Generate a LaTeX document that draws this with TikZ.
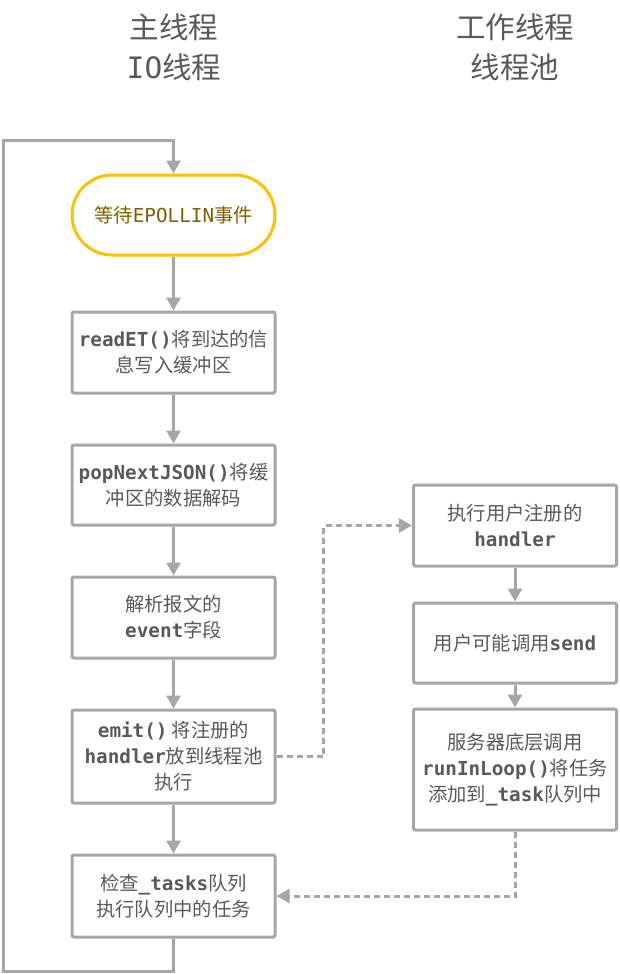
\documentclass[tikz,border=0pt]{standalone}
\usepackage{fontspec}
\usepackage{xcolor}
\usepackage{tikz}
\usetikzlibrary{arrows.meta}
\setmainfont{Noto Sans CJK SC}
\newfontfamily\codefont{DejaVu Sans Mono}
\newcommand{\kw}[1]{{\codefont\bfseries #1}}
\definecolor{linegray}{HTML}{A6A6A6}
\definecolor{txtgray}{HTML}{595959}
\definecolor{ovalline}{HTML}{FFC000}
\definecolor{ovaltxt}{HTML}{7F6000}

\begin{document}
\begin{tikzpicture}[x=1pt,y=-1pt,
    stepbox/.style={draw=linegray,line width=3pt,rounded corners=2pt,
      minimum width=203pt,minimum height=81pt,inner sep=0pt,align=center,
      text=txtgray,font=\fontsize{19.3}{26}\selectfont},
    flow/.style={draw=linegray,line width=3pt,
      -{Triangle[width=14pt,length=13pt]}},
    dflow/.style={flow,dash pattern=on 6pt off 4pt}]
          \useasboundingbox (0,0) rectangle (619,974);

          % titles
          \node[text=txtgray,align=center,font=\fontsize{29.5}{40}\selectfont] (tmain) at (174,47) {主线程\\{\codefont IO}线程};
          \node[text=txtgray,align=center,font=\fontsize{29.5}{40}\selectfont] (twork) at (515,47) {工作线程\\线程池};

          % main thread
          \node[stepbox,draw=ovalline,text=ovaltxt,rounded corners=40pt,minimum height=80pt] (wait) at (173.5,215) {等待{\codefont EPOLLIN}事件};
          \node[stepbox] (read) at (173.5,352.5) {\kw{readET()}将到达的信\\息写入缓冲区};
          \node[stepbox,minimum height=80pt] (pop) at (173.5,485) {\kw{popNextJSON()}将缓\\冲区的数据解码};
          \node[stepbox] (parse) at (173.5,617.5) {解析报文的\\\kw{event}字段};
          \node[stepbox,minimum height=93pt] (emit) at (173.5,756.5) {\kw{emit()} 将注册的\\\kw{handler}放到线程池\\执行};
          \node[stepbox,minimum height=82pt] (check) at (173.5,896) {检查\kw{\_tasks}队列\\执行队列中的任务};

          % worker thread
          \node[stepbox] (run) at (515,525.5) {执行用户注册的\\\kw{handler}};
          \node[stepbox,minimum height=80pt] (send) at (515,643) {用户可能调用\kw{send}};
          \node[stepbox,minimum height=121pt] (loop) at (515,769.5) {服务器底层调用\\\kw{runInLoop()}将任务\\添加到\kw{\_task}队列中};

          \coordinate (ret) at (3,140);

          \draw[flow] (wait) -- (read);
          \draw[flow] (read) -- (pop);
          \draw[flow] (pop) -- (parse);
          \draw[flow] (parse) -- (emit);
          \draw[flow] (emit) -- (check);
          \draw[flow] (check.south) -- ++(0,33) -| (ret) -| (wait.north);

          \draw[flow] (run) -- (send);
          \draw[flow] (send) -- (loop);

          \draw[dflow] (emit.east) -- ++(47,0) |- (run.west);
          \draw[dflow] (loop.south) |- (check.east);
        \end{tikzpicture}
\end{document}
